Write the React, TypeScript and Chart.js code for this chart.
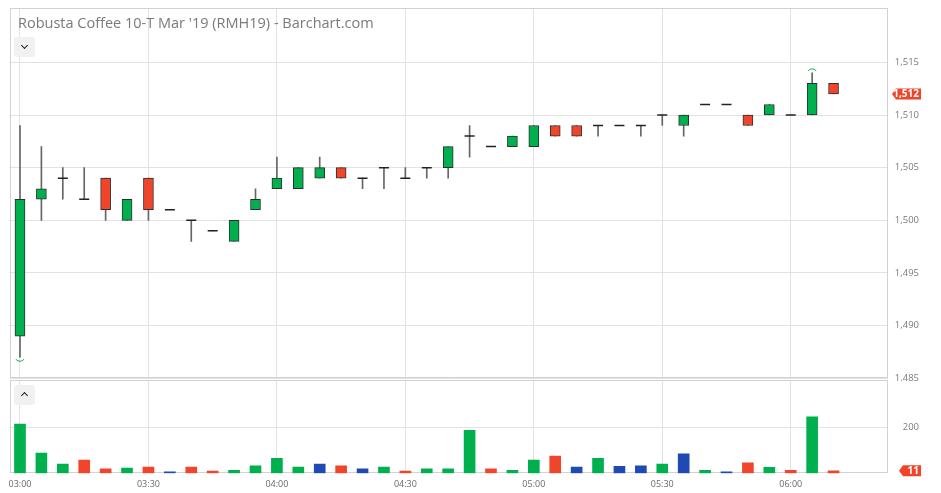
import React, { useEffect, useRef } from 'react';
import { Chart, registerables } from 'chart.js';

Chart.register(...registerables);

const TITLE = "Robusta Coffee 10-T Mar '19 (RMH19) - Barchart.com";

const times = [
  '03:00', '03:05', '03:10', '03:15', '03:20', '03:25', '03:30', '03:35', '03:40', '03:45',
  '03:50', '03:55', '04:00', '04:05', '04:10', '04:15', '04:20', '04:25', '04:30', '04:35',
  '04:40', '04:45', '04:50', '04:55', '05:00', '05:05', '05:10', '05:15', '05:20', '05:25',
  '05:30', '05:35', '05:40', '05:45', '05:50', '05:55', '06:00', '06:05', '06:10',
];

const opens = [
  1489, 1502, 1504, 1502, 1504, 1500, 1504, 1501, 1500, 1499,
  1498, 1501, 1503, 1503, 1504, 1505, 1504, 1505, 1504, 1505,
  1505, 1508, 1507, 1507, 1507, 1509, 1509, 1509, 1509, 1509,
  1510, 1509, 1511, 1511, 1510, 1510, 1510, 1510, 1513,
];
const highs = [
  1509, 1507, 1505, 1505, 1504, 1502, 1504, 1501, 1500, 1499,
  1500, 1503, 1506, 1505, 1506, 1505, 1504, 1505, 1505, 1505,
  1507, 1509, 1507, 1508, 1509, 1509, 1509, 1509, 1509, 1509,
  1510, 1510, 1511, 1511, 1510, 1511, 1510, 1514, 1513,
];
const lows = [
  1487, 1500, 1502, 1502, 1500, 1500, 1500, 1501, 1498, 1499,
  1498, 1501, 1503, 1503, 1504, 1504, 1503, 1503, 1504, 1504,
  1504, 1506, 1507, 1507, 1507, 1508, 1508, 1508, 1509, 1508,
  1509, 1508, 1511, 1511, 1509, 1510, 1510, 1510, 1512,
];
const closes = [
  1502, 1503, 1504, 1502, 1501, 1502, 1501, 1501, 1500, 1499,
  1500, 1502, 1504, 1505, 1505, 1504, 1504, 1505, 1504, 1505,
  1507, 1508, 1507, 1508, 1509, 1508, 1508, 1509, 1509, 1509,
  1510, 1510, 1511, 1511, 1509, 1511, 1510, 1513, 1512,
];
const volumes = [
  214, 88, 40, 58, 19, 23, 27, 6, 27, 10,
  13, 33, 65, 27, 40, 33, 19, 27, 10, 19,
  19, 187, 19, 13, 58, 75, 27, 65, 30, 33,
  40, 85, 13, 6, 45, 26, 13, 245, 11,
];

const timeTickLabels = ['03:00', '03:30', '04:00', '04:30', '05:00', '05:30', '06:00'];
const priceTicks = [1485, 1490, 1495, 1500, 1505, 1510, 1515];
const volumeTicks = [200];

const X_MIN = -0.49;
const X_MAX = 40.52;
const PRICE_MIN = 1485;
const PRICE_MAX = 1520.16;
const VOL_MAX = 405.6;

const GREEN = '#00b04f';
const RED = '#f0452b';
const BLUE = '#1f4ab3';
const GRID = '#e2e2e2';
const FRAME = '#d2d2d2';
const FONT = "'Open Sans', sans-serif";

const timeTickIdx = timeTickLabels.map((t) => times.indexOf(t));

const zeroPad = (s: any) => {
  s.paddingTop = 0;
  s.paddingBottom = 0;
  s.paddingLeft = 0;
  s.paddingRight = 0;
};

const framePlugin = {
  id: 'frame',
  beforeDatasetsDraw(chart: any) {
    const { ctx, chartArea } = chart;
    ctx.save();
    ctx.strokeStyle = FRAME;
    ctx.lineWidth = 1;
    const l = Math.round(chartArea.left) + 0.5;
    const t = Math.round(chartArea.top) + 0.5;
    const r = Math.round(chartArea.right) - 0.5;
    const b = Math.round(chartArea.bottom) - 0.5;
    ctx.strokeRect(l, t, r - l, b - t);
    ctx.restore();
  },
};

function drawTag(chart: any, value: number, text: string, tipX: number, rectLeft: number, rectRight: number, h: number) {
  const { ctx, scales } = chart;
  const y = scales.y.getPixelForValue(value);
  ctx.save();
  ctx.fillStyle = RED;
  ctx.beginPath();
  ctx.moveTo(tipX, y);
  ctx.lineTo(rectLeft, y - h / 2);
  ctx.lineTo(rectRight, y - h / 2);
  ctx.lineTo(rectRight, y + h / 2);
  ctx.lineTo(rectLeft, y + h / 2);
  ctx.closePath();
  ctx.fill();
  ctx.fillStyle = '#ffffff';
  ctx.font = `bold 10px ${FONT}`;
  ctx.textAlign = 'right';
  ctx.textBaseline = 'middle';
  ctx.fillText(text, rectRight - 2, y + 0.5);
  ctx.restore();
}

const priceTagPlugin = {
  id: 'priceTag',
  afterDraw(chart: any) {
    const last = closes[closes.length - 1];
    drawTag(chart, last, last.toLocaleString('en-US'), 892, 896, 921, 11);
  },
};

const volumeTagPlugin = {
  id: 'volumeTag',
  afterDraw(chart: any) {
    const last = volumes[volumes.length - 1];
    drawTag(chart, last, String(last), 899, 903, 921, 11);
  },
};

const extremesPlugin = {
  id: 'extremes',
  afterDatasetsDraw(chart: any) {
    const { ctx, scales } = chart;
    let lo = 0;
    let hi = 0;
    lows.forEach((v, i) => { if (v < lows[lo]) lo = i; });
    highs.forEach((v, i) => { if (v > highs[hi]) hi = i; });
    ctx.save();
    ctx.strokeStyle = GREEN;
    ctx.lineWidth = 1;
    const xl = scales.x.getPixelForValue(lo);
    const yl = scales.y.getPixelForValue(lows[lo]);
    ctx.beginPath();
    ctx.arc(xl, yl - 1, 5, 0.2 * Math.PI, 0.8 * Math.PI);
    ctx.stroke();
    const xh = scales.x.getPixelForValue(hi);
    const yh = scales.y.getPixelForValue(highs[hi]);
    ctx.beginPath();
    ctx.arc(xh, yh + 1, 5, 1.2 * Math.PI, 1.8 * Math.PI);
    ctx.stroke();
    ctx.restore();
  },
};

function PriceChart() {
  const ref = useRef<HTMLCanvasElement>(null);
  useEffect(() => {
    const idx = times.map((_, i) => i);
    const wickData = idx.map((i) => ({ x: i, y: [lows[i], highs[i]] }));
    const bodyIdx = idx.filter((i) => opens[i] !== closes[i]);
    const bodyData = bodyIdx.map((i) => ({ x: i, y: [opens[i], closes[i]] }));
    const bodyColors = bodyIdx.map((i) => (closes[i] > opens[i] ? GREEN : RED));
    const dojiData = idx.filter((i) => opens[i] === closes[i]).map((i) => ({ x: i, y: closes[i] }));

    const chart = new Chart(ref.current as HTMLCanvasElement, {
      type: 'bar',
      data: {
        datasets: [
          {
            type: 'bar',
            label: 'wick',
            data: wickData as any,
            backgroundColor: '#666666',
            barThickness: 1,
            grouped: false,
            order: 3,
          },
          {
            type: 'bar',
            label: 'body',
            data: bodyData as any,
            backgroundColor: bodyColors,
            borderColor: '#2e2e2e',
            borderWidth: 1,
            borderSkipped: false,
            barThickness: 10,
            grouped: false,
            order: 2,
          },
          {
            type: 'line',
            label: 'doji',
            data: dojiData as any,
            showLine: false,
            pointStyle: 'line',
            pointRadius: 5,
            pointHoverRadius: 5,
            borderColor: '#222222',
            borderWidth: 1.5,
            order: 1,
          },
        ] as any,
      },
      options: {
        animation: false,
        responsive: false,
        maintainAspectRatio: false,
        layout: { autoPadding: false, padding: { left: 9.5, top: 8, right: 22, bottom: 2.7 } },
        plugins: { legend: { display: false }, tooltip: { enabled: false } },
        scales: {
          x: {
            type: 'linear',
            min: X_MIN,
            max: X_MAX,
            offset: false,
            afterBuildTicks: (ax: any) => { ax.ticks = timeTickIdx.map((v) => ({ value: v })); },
            ticks: { display: false },
            grid: { color: GRID, drawTicks: false, offset: false },
            border: { display: false },
            afterFit: (s: any) => { s.height = 0; zeroPad(s); },
          },
          y: {
            position: 'right',
            min: PRICE_MIN,
            max: PRICE_MAX,
            afterBuildTicks: (ax: any) => { ax.ticks = priceTicks.map((v) => ({ value: v })); },
            ticks: {
              color: '#7a7a7a',
              font: { family: FONT, size: 9.5 },
              padding: 5,
              crossAlign: 'far',
              callback: (v: any) => Number(v).toLocaleString('en-US'),
            },
            grid: { color: GRID, drawTicks: false },
            border: { display: false },
            afterFit: (s: any) => { s.width = 31.5; zeroPad(s); },
          },
        },
      } as any,
      plugins: [framePlugin, extremesPlugin, priceTagPlugin],
    });
    return () => chart.destroy();
  }, []);
  return <canvas ref={ref} width={941} height={381} style={{ position: 'absolute', left: 0, top: 0, width: 941, height: 381 }} />;
}

function VolumeChart() {
  const ref = useRef<HTMLCanvasElement>(null);
  useEffect(() => {
    const volColors = volumes.map((_, i) => {
      if (i === 0) return GREEN;
      if (closes[i] > closes[i - 1]) return GREEN;
      if (closes[i] < closes[i - 1]) return RED;
      return BLUE;
    });
    const chart = new Chart(ref.current as HTMLCanvasElement, {
      type: 'bar',
      data: {
        datasets: [
          {
            type: 'bar',
            label: 'volume',
            data: volumes.map((v, i) => ({ x: i, y: v })) as any,
            backgroundColor: volColors,
            barThickness: 11,
            grouped: false,
          },
        ] as any,
      },
      options: {
        animation: false,
        responsive: false,
        maintainAspectRatio: false,
        layout: { autoPadding: false, padding: { left: 9.5, top: 0, right: 22, bottom: 0 } },
        plugins: { legend: { display: false }, tooltip: { enabled: false } },
        scales: {
          x: {
            type: 'linear',
            min: X_MIN,
            max: X_MAX,
            offset: false,
            afterBuildTicks: (ax: any) => { ax.ticks = timeTickIdx.map((v) => ({ value: v })); },
            ticks: {
              color: '#6a6a6a',
              font: { family: FONT, size: 9 },
              padding: 6,
              maxRotation: 0,
              autoSkip: false,
              callback: (v: any) => times[Number(v)] ?? '',
            },
            grid: { color: GRID, drawTicks: false, offset: false },
            border: { display: false },
            afterFit: (s: any) => { s.height = 19.7; zeroPad(s); },
          },
          y: {
            position: 'right',
            min: 0,
            max: VOL_MAX,
            afterBuildTicks: (ax: any) => { ax.ticks = volumeTicks.map((v) => ({ value: v })); },
            ticks: {
              color: '#7a7a7a',
              font: { family: FONT, size: 9.5 },
              padding: 5,
              crossAlign: 'far',
              callback: (v: any) => String(v),
            },
            grid: { color: GRID, drawTicks: false },
            border: { display: false },
            afterFit: (s: any) => { s.width = 31.5; zeroPad(s); },
          },
        },
      } as any,
      plugins: [framePlugin, volumeTagPlugin],
    });
    return () => chart.destroy();
  }, []);
  return <canvas ref={ref} width={941} height={113} style={{ position: 'absolute', left: 0, top: 380, width: 941, height: 113 }} />;
}

function Toggle({ top, up }: { top: number; up: boolean }) {
  return (
    <div
      style={{
        position: 'absolute',
        left: 14,
        top,
        width: 21,
        height: 20,
        background: '#f1f1f1',
        borderRadius: 3,
      }}
    >
      <div
        style={{
          position: 'absolute',
          left: 8,
          top: up ? 8 : 6,
          width: 4,
          height: 4,
          borderRight: '1.6px solid #222',
          borderBottom: '1.6px solid #222',
          transform: up ? 'rotate(-135deg)' : 'rotate(45deg)',
        }}
      />
    </div>
  );
}

export default function App() {
  return (
    <div style={{ position: 'fixed', left: 0, top: 0, width: 941, height: 493, background: '#ffffff', overflow: 'hidden' }}>
      <PriceChart />
      <VolumeChart />
      <div
        style={{
          position: 'absolute',
          left: 18,
          top: 14,
          fontFamily: FONT,
          fontSize: 14.5,
          lineHeight: '18px',
          color: '#7a7a7a',
          whiteSpace: 'nowrap',
        }}
      >
        {TITLE}
      </div>
      <Toggle top={37} up={false} />
      <Toggle top={385} up={true} />
    </div>
  );
}
